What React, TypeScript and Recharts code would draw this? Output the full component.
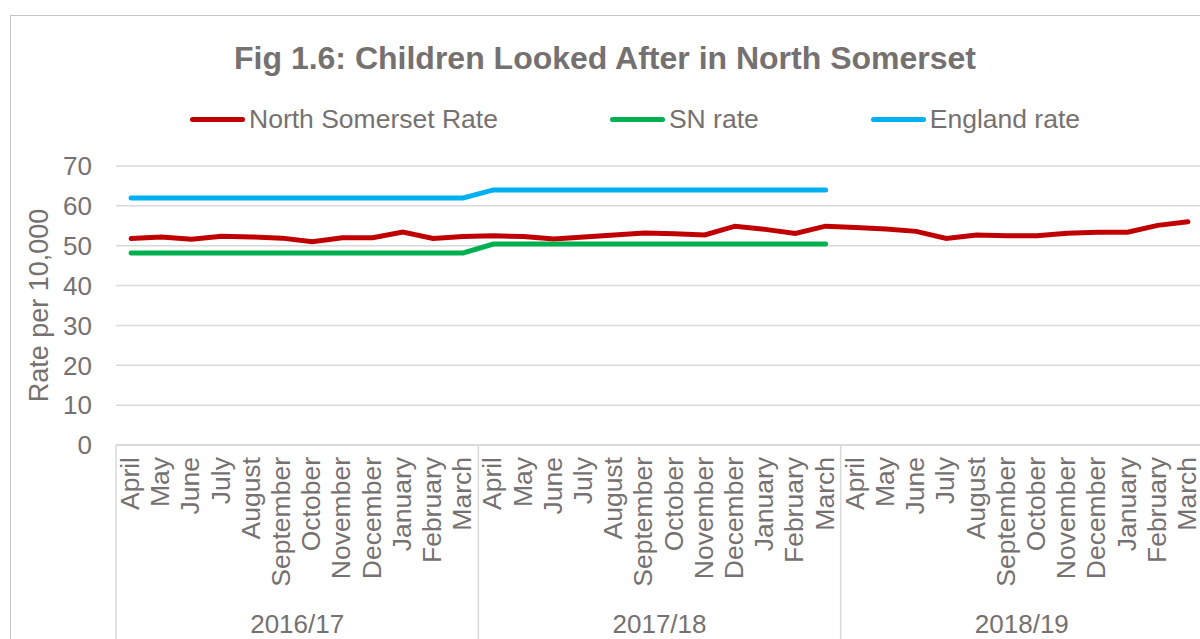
import React from "react";
import { LineChart, Line, XAxis, YAxis, CartesianGrid, Legend } from "recharts";

const months = [
  "April", "May", "June", "July", "August", "September",
  "October", "November", "December", "January", "February", "March",
];
const years = ["2016/17", "2017/18", "2018/19"];

const northSomersetRate = [
  51.8, 52.2, 51.6, 52.4, 52.2, 51.9, 51.0, 52.0, 52.0, 53.4, 51.8, 52.3,
  52.5, 52.3, 51.7, 52.2, 52.7, 53.2, 53.0, 52.7, 54.9, 54.1, 53.1, 54.9,
  54.6, 54.2, 53.6, 51.8, 52.7, 52.5, 52.5, 53.1, 53.4, 53.4, 55.1, 56.0,
];
const snRate = [
  48.2, 48.2, 48.2, 48.2, 48.2, 48.2, 48.2, 48.2, 48.2, 48.2, 48.2, 48.2,
  50.4, 50.4, 50.4, 50.4, 50.4, 50.4, 50.4, 50.4, 50.4, 50.4, 50.4, 50.4,
  null, null, null, null, null, null, null, null, null, null, null, null,
];
const englandRate = [
  62, 62, 62, 62, 62, 62, 62, 62, 62, 62, 62, 62,
  64, 64, 64, 64, 64, 64, 64, 64, 64, 64, 64, 64,
  null, null, null, null, null, null, null, null, null, null, null, null,
];
const yTicks = [0, 10, 20, 30, 40, 50, 60, 70];

const series = [
  { key: "ns", name: "North Somerset Rate", color: "#C00000" },
  { key: "sn", name: "SN rate", color: "#00B050" },
  { key: "eng", name: "England rate", color: "#00B0F0" },
];

const TEXT = "#767171";
const GRID = "#d9d9d9";
const FONT = "Arial, 'Liberation Sans', sans-serif";

const CHART_W = 1220;
const CHART_H = 700;
const MARGIN = { top: 166, right: 17, left: 0, bottom: 0 };
const Y_W = 116;
const X_H = 255;
const PLOT_W = CHART_W - MARGIN.left - MARGIN.right - Y_W;

const data = years.flatMap((yr, yi) =>
  months.map((m, mi) => {
    const i = yi * 12 + mi;
    return {
      id: `${yr}-${m}`,
      month: m,
      year: yr,
      ns: northSomersetRate[i],
      sn: snRate[i],
      eng: englandRate[i],
    };
  })
);

const BW = PLOT_W / data.length;

function MonthTick(props: any) {
  const { x, y, index } = props;
  const row = data[index];
  if (!row) return null;
  const pos = index % months.length;
  return (
    <g>
      <text
        transform={`translate(${x + 8},${y + 12}) rotate(-90)`}
        textAnchor="end"
        fill={TEXT}
        fontSize={26.5}
        fontFamily={FONT}
      >
        {row.month}
      </text>
      {pos === 0 && (
        <line x1={x - BW / 2} x2={x - BW / 2} y1={y} y2={CHART_H} stroke={GRID} strokeWidth={1.5} />
      )}
      {index === data.length - 1 && (
        <line x1={x + BW / 2} x2={x + BW / 2} y1={y} y2={CHART_H} stroke={GRID} strokeWidth={1.5} />
      )}
      {pos === 6 && (
        <text x={x - BW / 2} y={y + 188} textAnchor="middle" fill={TEXT} fontSize={26} fontFamily={FONT}>
          {row.year}
        </text>
      )}
    </g>
  );
}

function LegendContent() {
  return (
    <div style={{ display: "flex", alignItems: "center", gap: 112, fontFamily: FONT, fontSize: 26.5, color: TEXT }}>
      {series.map((s) => (
        <div key={s.key} style={{ display: "flex", alignItems: "center" }}>
          <span
            style={{
              display: "inline-block",
              width: 55,
              height: 5,
              borderRadius: 3,
              background: s.color,
              marginRight: 4,
            }}
          />
          <span>{s.name}</span>
        </div>
      ))}
    </div>
  );
}

export default function App() {
  return (
    <div
      style={{
        position: "absolute",
        top: 0,
        left: 0,
        width: 1200,
        height: 639,
        overflow: "hidden",
        background: "#fff",
        fontFamily: FONT,
      }}
    >
      <div
        style={{
          position: "absolute",
          left: 10,
          top: 15,
          width: 1300,
          height: 800,
          border: "1.5px solid #c6c6c6",
        }}
      />
      <div
        style={{
          position: "absolute",
          top: 40,
          left: 0,
          width: 1210,
          textAlign: "center",
          fontSize: 32,
          fontWeight: "bold",
          color: TEXT,
        }}
      >
        Fig 1.6: Children Looked After in North Somerset
      </div>
      <div style={{ position: "absolute", top: 0, left: 0 }}>
        <LineChart width={CHART_W} height={CHART_H} data={data} margin={MARGIN}>
          <CartesianGrid vertical={false} stroke={GRID} strokeWidth={1.5} />
          <XAxis
            dataKey="id"
            interval={0}
            height={X_H}
            padding={{ left: BW / 2, right: BW / 2 }}
            tickLine={false}
            tickSize={0}
            tickMargin={0}
            axisLine={{ stroke: GRID, strokeWidth: 1.5 }}
            tick={<MonthTick />}
          />
          <YAxis
            width={Y_W}
            domain={[0, 70]}
            ticks={yTicks}
            axisLine={false}
            tickLine={false}
            tickSize={0}
            tickMargin={24}
            tick={{ fill: TEXT, fontSize: 26, fontFamily: FONT }}
            label={{
              value: "Rate per 10,000",
              angle: -90,
              position: "insideLeft",
              offset: 38,
              style: { fill: TEXT, fontSize: 27, fontFamily: FONT, textAnchor: "middle" },
            }}
          />
          <Legend
            layout="horizontal"
            verticalAlign="middle"
            align="center"
            content={<LegendContent />}
            wrapperStyle={{ position: "absolute", top: 104, left: 190, width: "auto" }}
          />
          {series.map((s) => (
            <Line
              key={s.key}
              type="linear"
              dataKey={s.key}
              name={s.name}
              stroke={s.color}
              strokeWidth={5}
              strokeLinecap="round"
              dot={false}
              activeDot={false}
              isAnimationActive={false}
            />
          ))}
        </LineChart>
      </div>
    </div>
  );
}
